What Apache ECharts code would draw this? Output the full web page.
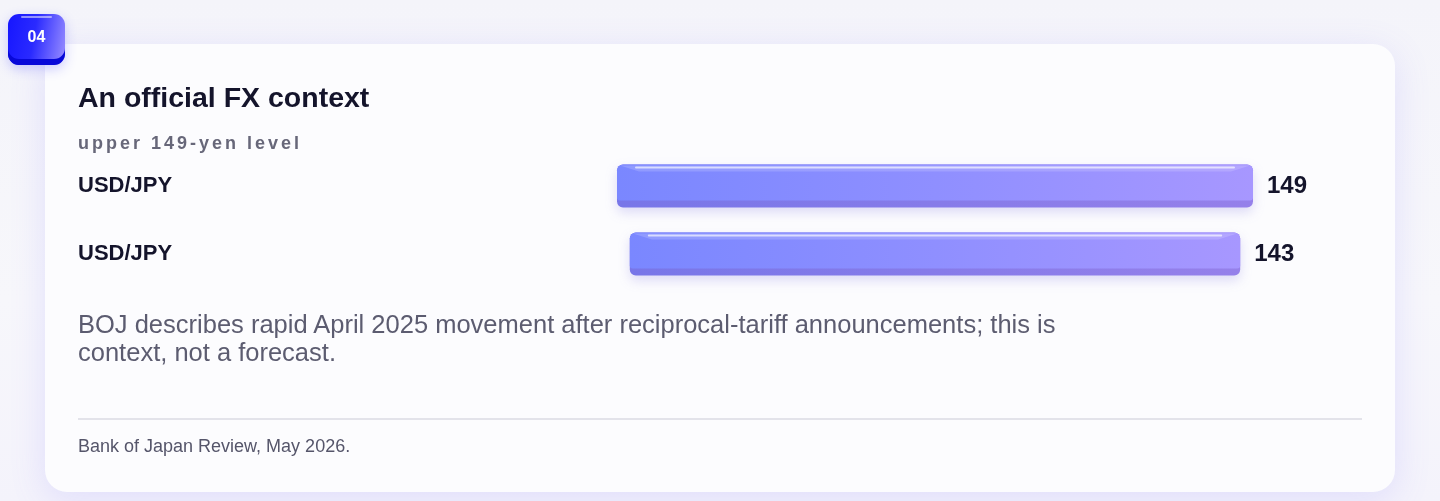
<!DOCTYPE html>
<html lang="en">
<head>
<meta charset="UTF-8">
<title>An official FX context</title>
<script src="https://cdn.jsdelivr.net/npm/echarts@6/dist/echarts.min.js"></script>
<style>
  html, body { margin: 0; padding: 0; width: 1440px; height: 501px; overflow: hidden; }
  body {
    background: linear-gradient(180deg, #f4f4fa 0%, #f7f7fb 60%, #f4f3fb 100%);
    font-family: "Liberation Sans", Arial, Helvetica, sans-serif;
    position: relative;
  }
  .card {
    position: absolute; left: 45px; top: 44px; width: 1350px; height: 448px;
    background: #fcfcfe; border-radius: 22px;
    box-shadow: 0 8px 36px rgba(118, 108, 255, 0.16);
  }
  .badge {
    position: absolute; left: 8px; top: 14px; width: 57px; height: 51px;
    border-radius: 11px; box-sizing: border-box;
    background: linear-gradient(100deg, #1616ff 0%, #2a2aff 45%, #9a8fff 100%);
    box-shadow: inset 0 -6px 0 #0808d9, 0 4px 12px rgba(60, 60, 255, 0.25);
    color: #fff; font-weight: bold; font-size: 16px;
    line-height: 46px; text-align: center; z-index: 3;
  }
  .badge:before {
    content: ""; position: absolute; left: 13px; right: 13px; top: 2px; height: 2px;
    background: rgba(255, 255, 255, 0.5); border-radius: 1px;
  }
  .txt { position: absolute; left: 78px; margin: 0; white-space: nowrap; z-index: 2; }
  .title { top: 81px; font-size: 28.5px; font-weight: bold; color: #14142b; }
  .sub { top: 133px; font-size: 18px; font-weight: bold; color: #676779; letter-spacing: 3px; }
  .note { top: 310px; font-size: 25.5px; line-height: 28px; color: #5c5c70; }
  .rule { position: absolute; left: 78px; top: 418px; width: 1284px; height: 2px; background: #e3e3ea; z-index: 2; }
  .foot { top: 436px; font-size: 18px; color: #55556a; }
  #chart { position: absolute; left: 0; top: 0; width: 1440px; height: 501px; z-index: 1; }
</style>
</head>
<body>
<div class="card"></div>
<div class="badge">04</div>
<p class="txt title">An official FX context</p>
<p class="txt sub">upper 149-yen level</p>
<div id="chart"></div>
<p class="txt note">BOJ describes rapid April 2025 movement after reciprocal-tariff announcements; this is<br>context, not a forecast.</p>
<div class="rule"></div>
<p class="txt foot">Bank of Japan Review, May 2026.</p>
<script type="text/javascript">
  // data
  var categories = ['USD/JPY', 'USD/JPY'];
  var values = [149, 143];

  var chart = echarts.init(document.getElementById('chart'), null, { renderer: 'canvas' });

  var seriesData = [];
  for (var i = 0; i < values.length; i++) {
    seriesData.push([values[i], i]);
  }

  // bars are centred in the grid, width proportional to value
  function renderBar(params, api) {
    var v = api.value(0);
    var cy = api.coord([0, api.value(1)])[1];
    var w = api.size([v, 0])[0];
    var cs = params.coordSys;
    var x = cs.x + cs.width / 2 - w / 2;
    var h = 43, face = 36;
    var y = cy - h / 2;
    return {
      type: 'group',
      children: [
        {
          type: 'rect',
          shape: { x: x, y: y, width: w, height: h, r: 6 },
          style: {
            fill: new echarts.graphic.LinearGradient(0, 0, 1, 0, [
              { offset: 0, color: '#7876e8' },
              { offset: 1, color: '#9580ea' }
            ]),
            shadowBlur: 12, shadowOffsetY: 5, shadowColor: 'rgba(110, 100, 220, 0.22)'
          }
        },
        {
          type: 'rect',
          shape: { x: x, y: y, width: w, height: face, r: [6, 6, 3, 3] },
          style: {
            fill: new echarts.graphic.LinearGradient(0, 0, 1, 0, [
              { offset: 0, color: '#7a87ff' },
              { offset: 0.5, color: '#8f8fff' },
              { offset: 1, color: '#a797ff' }
            ])
          }
        },
        {
          type: 'polygon',
          shape: { points: [[x + 3, y + 1], [x + w - 3, y + 1], [x + w - 22, y + 7], [x + 22, y + 7]] },
          style: { fill: 'rgba(255,255,255,0.16)' }
        },
        {
          type: 'rect',
          shape: { x: x + 18, y: y + 2, width: w - 36, height: 2, r: 1 },
          style: { fill: 'rgba(255,255,255,0.65)' }
        },
        {
          type: 'text',
          style: {
            x: x + w + 14, y: cy, text: String(v),
            align: 'left', verticalAlign: 'middle',
            fill: '#14142b', font: 'bold 24px "Liberation Sans", Arial, sans-serif'
          }
        }
      ]
    };
  }

  var option = {
    backgroundColor: 'transparent',
    animation: false,
    grid: { left: 617, width: 636, top: 152, height: 136 },
    xAxis: {
      type: 'value', min: 0, max: function (e) { return e.max; },
      show: false
    },
    yAxis: {
      type: 'category', data: categories, inverse: true,
      axisLine: { show: false }, axisTick: { show: false }, splitLine: { show: false },
      axisLabel: {
        align: 'left', margin: 539,
        color: '#14142b', fontSize: 22, fontWeight: 'bold',
        fontFamily: '"Liberation Sans", Arial, sans-serif'
      }
    },
    series: [{
      type: 'custom',
      renderItem: renderBar,
      encode: { x: 0, y: 1 },
      data: seriesData,
      clip: false
    }]
  };
  chart.setOption(option);
</script>
</body>
</html>
